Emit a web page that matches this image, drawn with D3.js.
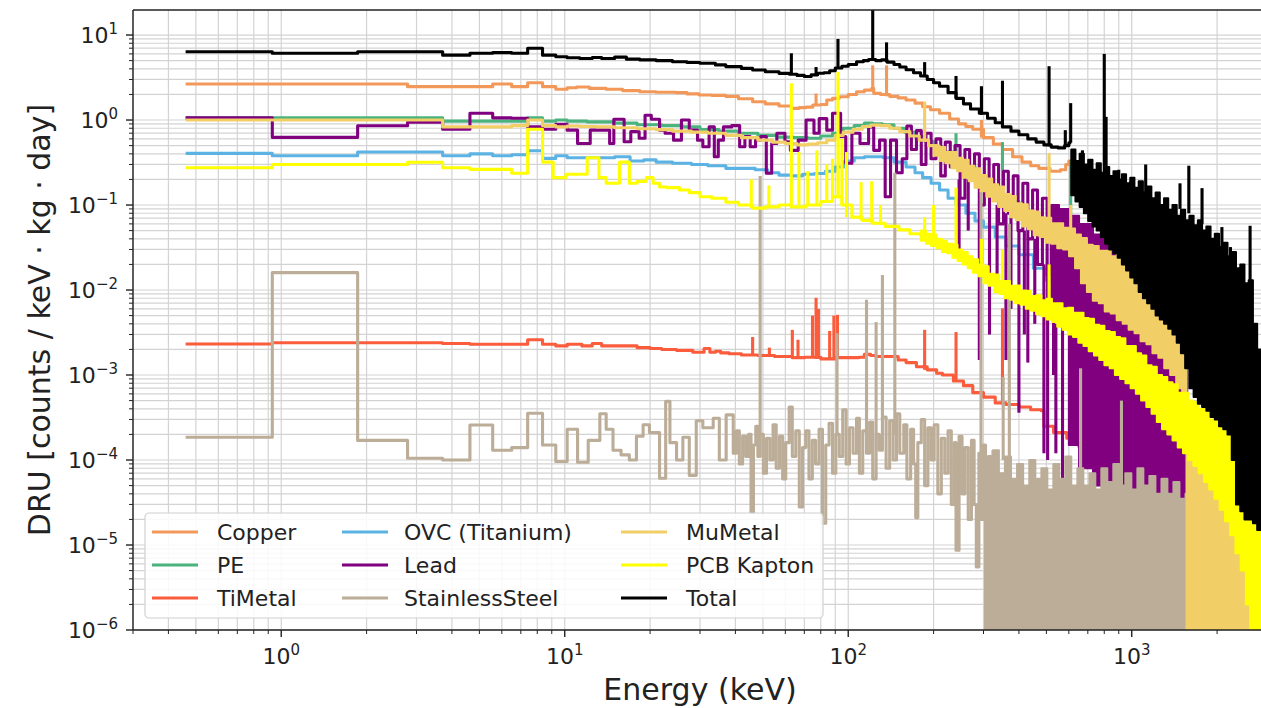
<!DOCTYPE html>
<html><head><meta charset="utf-8">
<script src="https://cdn.jsdelivr.net/npm/d3@7"></script>
<style>body{margin:0;background:#fff} text{font-family:"DejaVu Sans",sans-serif;fill:#222}</style>
</head><body><svg id="c" width="1261" height="708"></svg>
<script>
// ---------- DATA (energy keV, DRU) ----------
const seriesNames = ["Copper","PE","TiMetal","OVC (Titanium)","Lead","StainlessSteel","MuMetal","PCB Kapton","Total"];
const seriesColors = ["#f2995a","#4bb37e","#fa5c3c","#5cb3e3","#800080","#bcad98","#f2cf66","#ffff00","#000000"];
const xTicks = [1,10,100,1000];
const xTickExp = ["0","1","2","3"];
const yTicks = [1e-6,1e-5,1e-4,1e-3,1e-2,1e-1,1,10];
const yTickExp = ["\u22126","\u22125","\u22124","\u22123","\u22122","\u22121","0","1"];

const copper = [[0.46,2.65],[2.79,2.47],[5.57,2.65],[6.5,2.47],[7.4,2.75],[8.35,2.47],[9.3,2.3],[10.2,2.4],[11,2.45],[12.2,2.36],[14,2.3],[16,2.22],[18.4,2.15],[21,2.12],[24.7,2.1],[27,2.03],[29.8,1.97],[33,1.95],[37,1.9],[41,1.78],[46,1.64],[51,1.55],[57,1.46],[63,1.37],[67,1.4],[71,1.42],[75,1.5],[80,1.52],[84,1.72],[88,1.8],[93,1.88],[100,2.0],[107,2.15],[114,2.25],[121,2.36],[123,2.06],[130,2.0],[140,1.9],[150,1.82],[160,1.72],[172,1.58],[183,1.43],[195,1.32],[210,1.2],[228,1.03],[245,0.9],[260,0.84],[275,0.78],[300,0.62],[325,0.52],[350,0.45],[380,0.37],[410,0.32],[440,0.29],[470,0.27],[515,0.25],[560,0.26],[585,0.3],[600,0.33],[620,0.33]];
const copperSpikes = [[77,1.5,2.05],[122,2.36,4.4],[136.5,1.9,4.4],[295,0.62,1.0]];

const pe = [[0.46,1.06],[3.71,0.97],[7.4,1.06],[8.35,0.97],[9.3,1.0],[10.2,0.97],[12,0.95],[15,0.92],[18,0.88],[22,0.86],[26,0.83],[30,0.77],[35,0.74],[41,0.7],[48,0.66],[56,0.63],[64,0.62],[72,0.61],[80,0.65],[88,0.7],[96,0.8],[105,0.86],[114,0.92],[122,0.9],[132,0.88],[145,0.8],[158,0.72],[172,0.64],[186,0.56],[200,0.48],[215,0.42],[235,0.34],[255,0.28],[280,0.2],[310,0.15],[350,0.11],[400,0.08],[460,0.058],[520,0.045],[580,0.036],[620,0.03]];
const peSpikes = [[240,0.3,0.7],[350,0.11,0.55],[609,0.03,0.34]];

const tiMetal = [[0.46,2.32e-3],[0.93,2.4e-3],[3.71,2.35e-3],[4.63,2.3e-3],[7.4,2.6e-3],[8.35,2.3e-3],[9.3,2.2e-3],[10.2,2.3e-3],[11.5,2.2e-3],[12.5,2.35e-3],[13.5,2.2e-3],[16,2.2e-3],[18,2.1e-3],[20,2.05e-3],[22,2.0e-3],[24.8,1.95e-3],[28.3,1.85e-3],[31,2.05e-3],[32.5,1.85e-3],[34,1.9e-3],[35.5,1.82e-3],[38,1.78e-3],[42,1.72e-3],[48,1.7e-3],[55,1.65e-3],[63.5,1.6e-3],[70,1.62e-3],[80,1.55e-3],[90,1.6e-3],[100,1.6e-3],[109,1.62e-3],[114,1.75e-3],[120,1.7e-3],[125,1.65e-3],[140,1.65e-3],[150,1.5e-3],[160,1.4e-3],[174,1.25e-3],[190,1.15e-3],[205,1.05e-3],[215,1.0e-3],[235,8.5e-4],[255,7.5e-4],[275,6.2e-4],[300,5.5e-4],[330,4.7e-4],[360,4.5e-4],[400,4.2e-4],[440,3.9e-4],[480,3.8e-4],[490,2.5e-4],[530,2.1e-4],[590,1.8e-4],[650,1.45e-4],[700,1.3e-4]];
const tiSpikes = [[46,1.7e-3,2.8e-3],[52.7,1.65e-3,2.1e-3],[63.5,1.6e-3,3.4e-3],[66.5,1.6e-3,2.6e-3],[74.8,1.6e-3,5e-3],[77,1.55e-3,8.1e-3],[78.5,1.55e-3,6e-3],[86,1.55e-3,3.3e-3],[89,1.55e-3,5e-3],[91.6,1.6e-3,5.1e-3],[186,1.15e-3,3.4e-3],[240,8.5e-4,3.2e-3],[350,4.5e-4,6.1e-3],[662,1.4e-4,1.5e-3]];

const ovc = [[0.46,0.405],[0.93,0.38],[1.86,0.42],[3.71,0.38],[4.63,0.40],[5.57,0.38],[6.5,0.39],[7.4,0.435],[8.35,0.354],[9.3,0.38],[10.2,0.36],[13,0.36],[15,0.37],[17,0.33],[19,0.34],[21,0.32],[24,0.31],[28,0.3],[32,0.29],[37,0.27],[42,0.27],[47,0.26],[52,0.24],[57,0.225],[63,0.22],[69,0.23],[76,0.235],[83,0.25],[90,0.28],[97,0.33],[105,0.36],[114,0.37],[123,0.37],[133,0.36],[145,0.32],[160,0.28],[172,0.24],[183,0.21],[196,0.18],[210,0.15],[225,0.12],[240,0.1],[260,0.08],[280,0.065],[300,0.055],[330,0.042],[360,0.033],[400,0.026],[450,0.018],[500,0.013],[560,0.01]];

const lead = [[0.46,1.06],[0.93,0.625],[1.86,0.857],[2.79,0.94],[3.71,0.78],[4.63,1.2],[5.57,1.06],[6.5,1.05],[7.4,0.83],[8.35,0.78],[9.3,0.89],[10.2,0.76],[11.1,0.53],[12.3,0.76],[14.4,0.53],[14.9,1.02],[16.2,0.555],[17.1,0.73],[18.3,0.61],[19.2,1.14],[20.2,1.02],[21.6,0.76],[22.6,0.7],[24.2,0.58],[25.8,1.0],[27.5,0.76],[29.4,0.58],[30.7,0.485],[32.3,0.83],[33.7,0.37],[34.8,0.58],[36.3,0.83],[38.8,0.86],[41.4,0.485],[43.2,0.64],[45.1,0.485],[47.1,0.58],[49.2,0.64],[51.4,0.236],[53.7,0.53],[56,0.7],[59.8,0.555],[62.5,0.44],[66.6,0.58],[71,1.0],[75.7,0.7],[79,1.04],[84,0.76],[88,1.2],[94,0.64],[98,0.31],[103,0.7],[110,0.53],[118,0.83],[123,0.44],[129,0.58],[135,0.125],[141,0.58],[148,0.24],[155,0.35],[161,0.85],[167,0.45],[174,0.75],[181,0.3],[188,0.7],[196,0.35],[204,0.6],[212,0.22],[220,0.55],[229,0.28],[238,0.5],[248,0.12],[258,0.45],[268,0.2],[279,0.4],[290,0.1],[302,0.35],[314,0.15],[326,0.3],[339,0.06],[353,0.25],[367,0.08],[382,0.22],[397,0.05],[413,0.18],[430,0.04],[447,0.15],[465,0.02],[484,0.12],[503,0.015],[520,0.1]];
const leadBand = [[520,0.006,0.1],[554,0.004,0.09],[600,1.5e-4,0.075],[652,8e-5,0.06],[730,5e-5,0.045],[810,4e-5,0.035],[930,3.5e-5,0.022],[1060,3e-5,0.015],[1200,3e-5,0.009],[1390,3e-5,0.005],[1560,3e-5,0.002],[1570,3e-5,0.002]];
const leadDips = [[246,0.023,0.2],[265,0.05,0.2],[290,0.0015,0.1],[315,0.003,0.15],[335,0.01,0.1],[360,0.0015,0.08],[375,0.006,0.08],[400,3.6e-4,0.05],[418,0.003,0.05],[430,0.0014,0.04],[455,0.004,0.04],[490,1.2e-4,0.02],[505,1e-4,0.015],[530,0.001,0.02],[540,1.2e-4,0.004],[570,5e-5,0.004]];

const steel = [[0.46,1.85e-4],[0.93,0.016],[1.86,1.7e-4],[2.79,1.05e-4],[3.71,1.0e-4],[4.63,2.58e-4],[5.57,1.3e-4],[6.5,1.4e-4],[7.4,3.55e-4],[8.35,1.5e-4],[9.3,9.6e-5],[10.2,2.3e-4],[11.1,9.4e-5],[12.1,1.7e-4],[13.3,3.5e-4],[14.0,2.3e-4],[14.8,1.3e-4],[15.8,1.15e-4],[16.9,1.0e-4],[17.9,1.9e-4],[18.9,2.6e-4],[19.9,2.1e-4],[21.6,6.1e-5],[22.7,4.9e-4],[23.5,1.6e-4],[24.8,1.0e-4],[26.1,1.85e-4],[27.5,6.6e-5],[29.1,2.9e-4],[30.7,2.4e-4],[33.4,3.1e-4],[35.1,1.0e-4],[37.1,3.4e-4],[39.3,1.2e-4],[40.3,2.2e-4],[41.3,9e-5],[42.4,1.9e-4],[43.5,1.1e-4],[44.5,2.0e-4],[45.4,2.4e-5],[46.3,1.5e-4],[47.2,2.5e-4],[48.0,1.1e-4],[48.9,2.0e-4],[50.2,7e-5],[51.5,1.8e-4],[52.9,1.0e-4],[54.3,2.6e-4],[55.7,8e-5],[57.2,1.9e-4],[58.7,6e-5],[60.2,1.6e-4],[61.9,4.2e-4],[63.5,1.1e-4],[65.3,2.2e-4],[67.2,2.8e-5],[69.0,1.4e-4],[70.8,2.2e-4],[72.7,6e-5],[74.7,1.7e-4],[76.7,9e-5],[78.9,2.3e-4],[81.1,1.8e-5],[83.3,1.5e-4],[85.6,2.7e-4],[88.0,7e-5],[90.4,2.0e-4],[93.0,1.1e-4],[95.6,3.9e-4],[98.3,9e-5],[101,2.4e-4],[104,1.2e-4],[107,3.1e-4],[109.5,7e-5],[112.5,2.2e-4],[116,1.2e-4],[119,2.8e-4],[122,6e-5],[125.4,2.0e-4],[128.7,1.3e-4],[132,3.2e-4],[136,8e-5],[140,2.9e-4],[144,1.0e-4],[148,3.5e-4],[152,1.2e-4],[157,2.6e-4],[161,6e-5],[166,2.3e-4],[170,9e-5],[173,2.1e-5],[176,1.6e-4],[181,3.0e-4],[186,5e-5],[191,2.4e-4],[196,1.0e-4],[201,2.6e-4],[207,4e-5],[213,1.8e-4],[219,7e-5],[225,2.2e-4],[231,3e-5],[237,1.6e-4],[240,8.7e-6],[246,1.9e-4],[252,4e-5],[258,1.4e-4],[265,2e-5],[272,1.7e-4],[278,3e-5],[283,5.5e-6],[289,1.2e-4],[295,2e-5],[300,1.5e-4],[305,1e-7],[312,1.1e-4],[318,1e-7],[324,1.3e-4]];
const steelBand = [[324,1e-7,1.3e-4],[340,1e-7,7e-5],[357,1e-7,1.1e-4],[375,1e-7,6e-5],[394,1e-7,9e-5],[414,1e-7,5e-5],[435,1e-7,1e-4],[457,1e-7,6e-5],[480,1e-7,8e-5],[504,1e-7,4.5e-5],[529,1e-7,9e-5],[555,1e-7,6e-5],[583,1e-7,1.1e-4],[612,1e-7,5e-5],[643,1e-7,8e-5],[675,1e-7,5e-5],[709,1e-7,7e-5],[744,1e-7,4.5e-5],[781,1e-7,8e-5],[820,1e-7,5.5e-5],[861,1e-7,9e-5],[904,1e-7,5e-5],[949,1e-7,7e-5],[997,1e-7,4.5e-5],[1047,1e-7,8e-5],[1099,1e-7,5e-5],[1154,1e-7,6.5e-5],[1212,1e-7,4e-5],[1273,1e-7,6e-5],[1336,1e-7,4e-5],[1403,1e-7,5.5e-5],[1473,1e-7,3.5e-5],[1547,1e-7,4e-5],[1560,1e-7,4e-5]];
const steelSpikes = [[48.9,2e-4,0.22],[91.3,2e-4,3.1e-3],[116,1.2e-4,7.7e-3],[125.4,2e-4,4.2e-3],[132,3e-4,0.015],[146,2e-4,0.24],[294,1e-4,0.15],[352,1e-4,9.5e-4],[370,1e-4,0.06],[660,5e-5,1.2e-3],[920,5e-5,5e-4]];

const muMetal = [[0.46,1.0],[3.71,0.83],[6.5,0.86],[7.4,1.0],[8.35,0.86],[9.3,0.83],[10.2,0.85],[11.3,0.84],[13,0.83],[15,0.81],[18,0.79],[21,0.77],[24,0.74],[28,0.72],[32,0.7],[37,0.66],[42,0.62],[48,0.58],[54,0.55],[60,0.53],[66,0.51],[72,0.52],[78,0.54],[84,0.58],[90,0.66],[96,0.72],[104,0.78],[112,0.84],[120,0.87],[130,0.86],[140,0.8],[152,0.73],[165,0.65],[178,0.58],[192,0.5],[205,0.44]];
const muBand = [[200,0.38,0.5],[210,0.33,0.48],[220,0.31,0.42],[231,0.27,0.42],[242,0.25,0.36],[254,0.21,0.34],[266,0.19,0.29],[279,0.16,0.27],[293,0.145,0.225],[307,0.125,0.205],[322,0.11,0.175],[338,0.095,0.165],[355,0.085,0.135],[372,0.072,0.128],[390,0.066,0.105],[410,0.056,0.102],[430,0.052,0.086],[451,0.044,0.084],[473,0.042,0.072],[496,0.036,0.071],[520,0.035,0.061],[546,0.031,0.061],[573,0.03,0.054],[601,0.025,0.053],[631,0.018,0.045],[662,0.012,0.041],[695,0.0095,0.034],[729,0.0075,0.033],[765,0.007,0.029],[803,0.0056,0.029],[843,0.0053,0.025],[885,0.0044,0.026],[929,0.004,0.022],[975,0.0034,0.023],[1023,0.0031,0.019],[1074,0.0025,0.019],[1127,0.0023,0.016],[1183,0.0018,0.016],[1241,0.0016,0.0125],[1302,0.0012,0.0125],[1367,0.001,0.0095],[1435,7e-4,0.009],[1506,5e-4,0.0068],[1560,1e-7,4e-4],[1800,1e-7,2.5e-4],[2100,1e-7,1.6e-4],[2400,1e-7,1e-4],[2650,1e-7,6e-5],[3000,1e-7,5e-5]];
const muSpikes = [[186,0.55,1.65],[511,0.045,0.41],[609,0.03,0.1]];

const kapton = [[0.46,0.275],[0.93,0.30],[2.79,0.318],[3.71,0.275],[4.63,0.263],[6.5,0.236],[7.4,0.78],[8.35,0.32],[9.1,0.21],[10.1,0.23],[12,0.36],[13.2,0.21],[14,0.18],[15.6,0.32],[16.9,0.18],[18,0.19],[19.4,0.21],[20.5,0.18],[21.6,0.163],[23,0.16],[25.4,0.15],[27.5,0.14],[30,0.125],[33,0.12],[37,0.108],[41,0.1],[46,0.092],[51,0.095],[57,0.1],[63,0.095],[71,0.1],[80,0.11],[88,0.125],[95,0.1],[103,0.072],[112,0.066],[122,0.061],[135,0.056],[151,0.051],[165,0.046],[180,0.043]];
const kaptonBand = [[180,0.038,0.05],[188,0.035,0.046],[196,0.033,0.045],[205,0.031,0.04],[214,0.028,0.038],[223,0.027,0.035],[233,0.024,0.034],[243,0.022,0.03],[253,0.02,0.028],[264,0.018,0.025],[275,0.016,0.023],[287,0.0145,0.02],[300,0.012,0.019],[313,0.0112,0.0155],[327,0.0095,0.0152],[341,0.009,0.0128],[356,0.008,0.0128],[372,0.0077,0.0112],[388,0.007,0.0113],[405,0.0067,0.0099],[423,0.006,0.0098],[441,0.0057,0.0085],[460,0.0052,0.0087],[480,0.0049,0.0076],[501,0.0045,0.0079],[523,0.0042,0.007],[546,0.0037,0.007],[570,0.0034,0.0061],[595,0.003,0.0062],[621,0.0028,0.0054],[648,0.0024,0.0054],[676,0.0022,0.0047],[705,0.0019,0.0046],[736,0.0017,0.0039],[768,0.0015,0.0038],[801,0.0013,0.0033],[836,0.0012,0.0032],[872,0.001,0.0028],[910,9e-4,0.0027],[950,8e-4,0.0022],[991,7e-4,0.0022],[1034,6e-4,0.0018],[1079,5e-4,0.0017],[1126,4.2e-4,0.0013],[1175,3.5e-4,0.00125],[1226,2.8e-4,0.001],[1279,2.3e-4,9.5e-4],[1335,2e-4,8.2e-4],[1393,1.7e-4,7.8e-4],[1453,1.4e-4,6.2e-4],[1516,1.2e-4,6.2e-4],[1582,1e-4,5e-4],[1651,8.5e-5,4.8e-4],[1723,7e-5,4e-4],[1798,5.5e-5,3.8e-4],[1876,4.5e-5,3e-4],[1958,3.5e-5,2.9e-4],[2043,2.6e-5,2.3e-4],[2132,1.9e-5,2.2e-4],[2225,1.3e-5,1.7e-4],[2322,8e-6,1.6e-4],[2423,5e-6,1.25e-4],[2528,2e-6,1.15e-4],[2620,1e-7,8e-5],[2750,1e-7,4e-5],[3000,1e-7,3e-5]];
const kaptonSpikes = [[45.5,0.092,0.2],[52.5,0.095,0.17],[63,0.095,2.7],[67,0.1,0.42],[72,0.1,0.25],[77.5,0.1,0.44],[84,0.11,0.3],[88,0.12,0.35],[92,0.12,3.7],[95,0.1,0.6],[98.6,0.072,0.42],[111,0.066,0.186],[121,0.061,0.19],[130,0.058,0.1],[186,0.042,0.072],[200,0.036,0.1],[240,0.029,0.16],[295,0.015,0.04],[350,0.01,0.03],[511,0.005,0.02]];

const total = [[0.46,6.36],[0.93,6.1],[1.86,6.36],[3.71,5.8],[4.63,6.1],[5.57,6.2],[6.5,6.1],[7.4,7.0],[8.35,5.8],[9.3,5.55],[10.2,5.4],[11.3,5.3],[12.5,5.45],[13.5,5.3],[15,5.5],[16.5,5.2],[18.4,5.1],[21,5.0],[24,4.85],[27,4.75],[30,4.65],[34,4.45],[37,4.25],[42,4.05],[46,3.87],[51,3.7],[57,3.54],[62,3.45],[66,3.35],[70,3.25],[74,3.4],[78,3.55],[82,3.6],[86,3.8],[90,4.1],[95,4.3],[100,4.5],[107,4.85],[113,5.0],[118,5.15],[125,5.0],[131,5.1],[137,4.8],[145,4.5],[152,4.2],[160,3.9],[170,3.6],[180,3.3],[190,3.0],[200,2.75],[210,2.5],[225,2.1],[240,1.8],[255,1.55],[270,1.35],[290,1.2],[310,1.05],[330,0.93],[350,0.83],[375,0.74],[400,0.67],[430,0.6],[460,0.55],[490,0.51],[520,0.48],[550,0.47],[580,0.5],[600,0.54],[612,0.54]];
const totalBand = [[612,0.13,0.45],[633,0.11,0.33],[655,0.095,0.4],[678,0.08,0.3],[702,0.065,0.34],[727,0.056,0.26],[752,0.05,0.31],[778,0.042,0.24],[805,0.035,0.28],[833,0.03,0.22],[862,0.027,0.25],[892,0.024,0.2],[923,0.02,0.23],[955,0.017,0.18],[988,0.014,0.21],[1022,0.012,0.16],[1058,0.0095,0.19],[1095,0.008,0.14],[1133,0.007,0.165],[1173,0.006,0.12],[1214,0.005,0.14],[1256,0.0045,0.1],[1300,0.004,0.12],[1345,0.0035,0.088],[1392,0.003,0.1],[1441,0.0024,0.075],[1491,0.0018,0.088],[1543,0.0012,0.066],[1597,7e-4,0.075],[1653,5.5e-4,0.058],[1711,4.6e-4,0.066],[1771,4.2e-4,0.05],[1833,3.8e-4,0.056],[1897,3.2e-4,0.04],[1963,3e-4,0.046],[2032,2.5e-4,0.032],[2103,2.3e-4,0.036],[2177,2e-4,0.025],[2253,1e-4,0.028],[2332,3e-5,0.018],[2414,2.5e-5,0.02],[2498,2e-5,0.012],[2585,2e-5,0.013],[2676,1.8e-5,0.004],[2770,1.5e-5,0.002],[2867,1.5e-5,0.0012],[3000,1.5e-5,0.0012]];
const totalSpikes = [[63,3.45,6.1],[77,3.45,4.2],[92,4.1,9.0],[122,5.1,40],[136.5,4.8,8.2],[186,3.2,4.8],[240,1.8,3.3],[295,1.15,2.5],[350,0.83,2.9],[511,0.49,4.3],[583,0.5,0.76],[609,0.54,1.58],[670,0.3,0.44],[766,0.25,0.28],[800,0.24,6.0],[812,0.24,1.09],[900,0.2,0.26],[990,0.17,0.19],[1120,0.14,0.3],[1480,0.09,0.18],[1590,0.08,0.29],[1770,0.06,0.158],[2080,0.032,0.055],[2230,0.025,0.032],[2615,0.008,0.057]];

const lines = [copper,pe,tiMetal,ovc,lead,steel,muMetal,kapton,total];
const bands = [null,null,null,null,leadBand,steelBand,muBand,kaptonBand,totalBand];
const spikes = [copperSpikes,peSpikes,tiSpikes,[],leadDips,steelSpikes,muSpikes,kaptonSpikes,totalSpikes];

// ---------- CHART ----------
const svg = d3.select("#c");
const L=133, R=1267, T=10, B=630;
const x = d3.scaleLog().domain([0.3,3000]).range([L,R]);
const y = d3.scaleLog().domain([1e-6,19.7]).range([B,T]);
const yv = v => y(Math.max(v,1e-9));

svg.append("defs").append("clipPath").attr("id","clip")
  .append("rect").attr("x",L).attr("y",T).attr("width",R-L).attr("height",B-T);

// grid (major + minor)
const xGrid=[], yGrid=[];
[0.1,1,10,100,1000].forEach(d=>{for(let k=1;k<10;k++){const v=k*d; if(v>=0.3&&v<=3000) xGrid.push(v);}});
[1e-6,1e-5,1e-4,1e-3,1e-2,1e-1,1,10].forEach(d=>{for(let k=1;k<10;k++){const v=k*d; if(v<=19.7) yGrid.push(v);}});
const g = svg.append("g");
g.selectAll(".gx").data(xGrid).join("line").attr("x1",d=>x(d)).attr("x2",d=>x(d)).attr("y1",T).attr("y2",B)
  .attr("stroke","#d3d3d3").attr("stroke-width",1.2);
g.selectAll(".gy").data(yGrid).join("line").attr("x1",L).attr("x2",R).attr("y1",d=>y(d)).attr("y2",d=>y(d))
  .attr("stroke","#d3d3d3").attr("stroke-width",1.2);

// data
const plot = svg.append("g").attr("clip-path","url(#clip)");
const lineGen = d3.line().x(d=>x(d[0])).y(d=>yv(d[1])).curve(d3.curveStepAfter);
const areaGen = d3.area().x(d=>x(d[0])).y0(d=>yv(d[1])).y1(d=>yv(d[2])).curve(d3.curveStepAfter);
const LW = 3.1;
seriesNames.forEach((name,i)=>{
  const c = seriesColors[i];
  const sg = plot.append("g");
  if (bands[i]) sg.append("path").datum(bands[i]).attr("d",areaGen).attr("fill",c).attr("stroke",c)
    .attr("stroke-width",2).attr("stroke-linejoin","round");
  sg.append("path").datum(lines[i]).attr("d",lineGen).attr("fill","none").attr("stroke",c)
    .attr("stroke-width",LW).attr("stroke-linejoin","round");
  sg.selectAll("line").data(spikes[i]).join("line")
    .attr("x1",d=>x(d[0])).attr("x2",d=>x(d[0])).attr("y1",d=>yv(d[1])).attr("y2",d=>yv(d[2]))
    .attr("stroke",c).attr("stroke-width",LW);
});

// axes spines
svg.append("line").attr("x1",L).attr("x2",L).attr("y1",T).attr("y2",B).attr("stroke","#222").attr("stroke-width",1.4);
svg.append("line").attr("x1",L).attr("x2",R).attr("y1",B).attr("y2",B).attr("stroke","#222").attr("stroke-width",1.4);
svg.append("line").attr("x1",L).attr("x2",R).attr("y1",T).attr("y2",T).attr("stroke","#222").attr("stroke-width",1.4);

// ticks
const ax = svg.append("g");
ax.selectAll(".tx").data(xGrid).join("line")
  .attr("x1",d=>x(d)).attr("x2",d=>x(d)).attr("y1",B).attr("y2",d=>B+(xTicks.includes(d)?7:4))
  .attr("stroke","#222").attr("stroke-width",d=>xTicks.includes(d)?1.4:1);
ax.selectAll(".ty").data(yGrid).join("line")
  .attr("y1",d=>y(d)).attr("y2",d=>y(d)).attr("x1",L).attr("x2",d=>L-(yTicks.includes(d)?7:4))
  .attr("stroke","#222").attr("stroke-width",d=>yTicks.includes(d)?1.4:1);

xTicks.forEach((t,i)=>{
  const tx = ax.append("text").attr("x",x(t)).attr("y",664).attr("text-anchor","middle").attr("font-size",22);
  tx.append("tspan").text("10");
  tx.append("tspan").attr("font-size",15).attr("dy",-9).text(xTickExp[i]);
});
yTicks.forEach((t,i)=>{
  const ty = ax.append("text").attr("x",118).attr("y",y(t)+8).attr("text-anchor","end").attr("font-size",22);
  ty.append("tspan").text("10");
  ty.append("tspan").attr("font-size",15).attr("dy",-9).text(yTickExp[i]);
});

// axis titles
svg.append("text").attr("x",(L+R)/2).attr("y",700).attr("text-anchor","middle").attr("font-size",30).text("Energy (keV)");
svg.append("text").attr("transform","translate(50,320) rotate(-90)").attr("text-anchor","middle").attr("font-size",30)
  .text("DRU [counts / keV \u00b7 kg \u00b7 day]");

// legend
const lg = svg.append("g");
lg.append("rect").attr("x",145).attr("y",513).attr("width",678).attr("height",105).attr("rx",4)
  .attr("fill","#fff").attr("fill-opacity",0.85).attr("stroke","#d0d0d0").attr("stroke-width",1.2);
const colHandle=[152,342,621], colText=[217,404,686], rowY=[532,565,598];
seriesNames.forEach((name,i)=>{
  const col=Math.floor(i/3), row=i%3;
  lg.append("line").attr("x1",colHandle[col]).attr("x2",colHandle[col]+46).attr("y1",rowY[row]).attr("y2",rowY[row])
    .attr("stroke",seriesColors[i]).attr("stroke-width",LW);
  lg.append("text").attr("x",colText[col]).attr("y",rowY[row]+8).attr("font-size",22).text(name);
});
</script></body></html>
